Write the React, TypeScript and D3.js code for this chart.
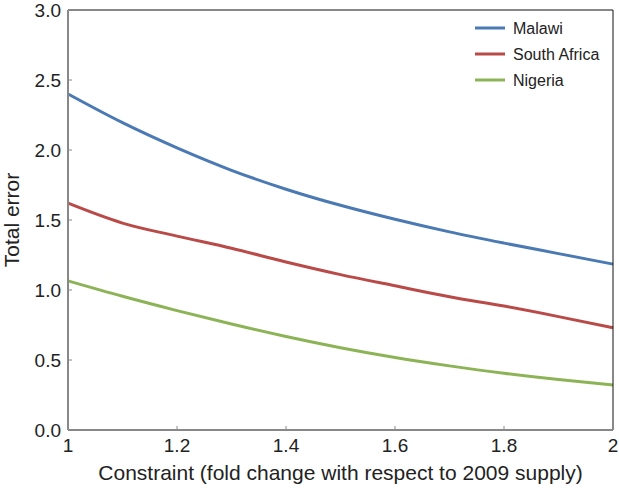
import React from "react";
import * as d3 from "d3";

const xValues = [1.0, 1.1, 1.2, 1.3, 1.4, 1.5, 1.6, 1.7, 1.8, 1.9, 2.0];
const malawi = [2.40, 2.195, 2.015, 1.855, 1.72, 1.605, 1.505, 1.415, 1.335, 1.26, 1.185];
const southAfrica = [1.62, 1.478, 1.385, 1.298, 1.20, 1.11, 1.03, 0.952, 0.885, 0.81, 0.73];
const nigeria = [1.065, 0.955, 0.853, 0.757, 0.668, 0.588, 0.518, 0.458, 0.405, 0.36, 0.322];
const seriesNames = ["Malawi", "South Africa", "Nigeria"];
const seriesColors = ["#4a79b4", "#b94a48", "#8cb456"];
const xTicks = [1, 1.2, 1.4, 1.6, 1.8, 2];
const yTicks = [0, 0.5, 1.0, 1.5, 2.0, 2.5, 3.0];

export default function App() {
  const W = 619, H = 488;
  const L = 68, R = 613, T = 10, B = 430;
  const x = d3.scaleLinear().domain([1, 2]).range([L, R]);
  const y = d3.scaleLinear().domain([0, 3]).range([B, T]);
  const series = [malawi, southAfrica, nigeria];
  const line = d3.line<number>().x((_, i) => x(xValues[i])).y(d => y(d)).curve(d3.curveMonotoneX);
  const font = "'Liberation Sans', Arial, Helvetica, sans-serif";
  const xFmt = (v: number) => (Number.isInteger(v) ? String(v) : v.toFixed(1));
  return (
    <svg width={W} height={H} style={{ position: "absolute", left: 0, top: 0, background: "#fff" }} fontFamily={font}>
      <rect x={0} y={0} width={W} height={H} fill="#fff" />
      {series.map((s, k) => (
        <path key={k} d={line(s) || ""} fill="none" stroke={seriesColors[k]} strokeWidth={3} />
      ))}
      <line x1={L} x2={R} y1={T} y2={T} stroke="#111" strokeWidth={1} />
      <line x1={R} x2={R} y1={T} y2={B} stroke="#111" strokeWidth={1} />
      <line x1={L} x2={L} y1={T} y2={B} stroke="#888" strokeWidth={2} />
      <line x1={L} x2={R} y1={B} y2={B} stroke="#888" strokeWidth={2} />
      {yTicks.map(t => (
        <g key={t}>
          <line x1={L} x2={L + 4} y1={y(t)} y2={y(t)} stroke="#888" strokeWidth={1} />
          <text x={L - 7} y={y(t)} dy="0.36em" textAnchor="end" fontSize={19} fill="#222">{t.toFixed(1)}</text>
        </g>
      ))}
      {xTicks.map(t => (
        <g key={t}>
          <line x1={x(t)} x2={x(t)} y1={B} y2={B - 4} stroke="#888" strokeWidth={1} />
          <text x={x(t)} y={B + 22} textAnchor="middle" fontSize={19} fill="#222">{xFmt(t)}</text>
        </g>
      ))}
      <text x={(L + R) / 2} y={B + 50} textAnchor="middle" fontSize={21} fill="#222">Constraint (fold change with respect to 2009 supply)</text>
      <text transform={`translate(19,${(T + B) / 2}) rotate(-90)`} textAnchor="middle" fontSize={21} fill="#222">Total error</text>
      {seriesNames.map((n, k) => (
        <g key={n}>
          <line x1={475} x2={505} y1={28 + k * 26} y2={28 + k * 26} stroke={seriesColors[k]} strokeWidth={3} />
          <text x={513} y={28 + k * 26} dy="0.36em" fontSize={16} fill="#222">{n}</text>
        </g>
      ))}
    </svg>
  );
}
